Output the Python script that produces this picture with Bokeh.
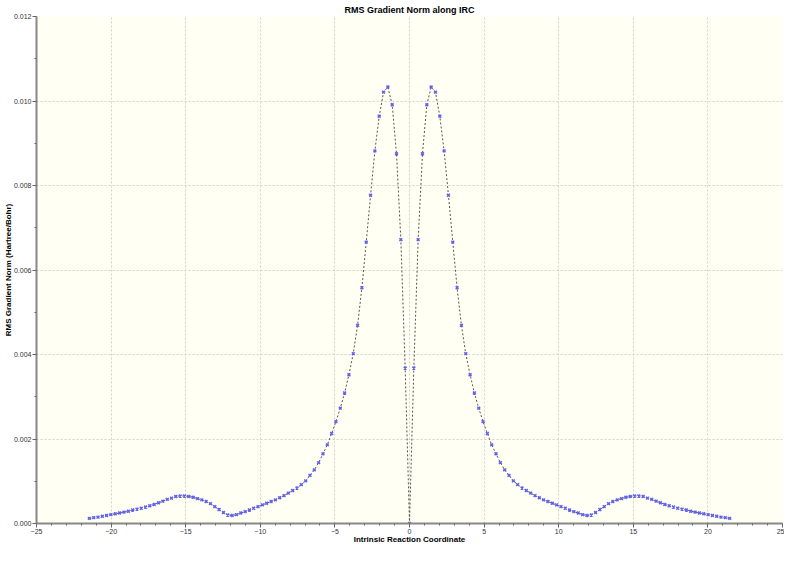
from bokeh.plotting import figure
from bokeh.models import Range1d, SingleIntervalTicker, NumeralTickFormatter
from bokeh.embed import file_html
from bokeh.resources import INLINE

# IRC coordinate (left branch, from the end point toward the TS)
irc_left = [-21.46, -21.17, -20.88, -20.59, -20.30, -20.01, -19.72, -19.43, -19.14, -18.85,
            -18.56, -18.27, -17.98, -17.69, -17.40, -17.11, -16.82, -16.53, -16.24, -15.95,
            -15.66, -15.37, -15.08, -14.79, -14.50, -14.21, -13.92, -13.63, -13.34, -13.05,
            -12.76, -12.47, -12.18, -11.89, -11.60, -11.31, -11.02, -10.73, -10.44, -10.15,
            -9.86, -9.57, -9.28, -8.99, -8.70, -8.41, -8.12, -7.83, -7.54, -7.25,
            -6.96, -6.67, -6.38, -6.09, -5.80, -5.51, -5.22, -4.93, -4.64, -4.35,
            -4.06, -3.77, -3.48, -3.19, -2.90, -2.61, -2.32, -2.03, -1.74, -1.45,
            -1.16, -0.87, -0.58, -0.29]
rms_left = [0.00012, 0.00014, 0.00015, 0.00017, 0.00019, 0.00021, 0.00023, 0.00025, 0.00027, 0.00029,
            0.00032, 0.00034, 0.00036, 0.00039, 0.00042, 0.00045, 0.00049, 0.00053, 0.00057, 0.00060,
            0.00064, 0.00065, 0.00065, 0.00064, 0.00062, 0.00059, 0.00056, 0.00052, 0.00047, 0.00040,
            0.00033, 0.00026, 0.00020, 0.00019, 0.00021, 0.00025, 0.00028, 0.00032, 0.00036, 0.00040,
            0.00044, 0.00048, 0.00052, 0.00056, 0.00061, 0.00066, 0.00072, 0.00078, 0.00084, 0.00092,
            0.00101, 0.00114, 0.00127, 0.00144, 0.00165, 0.00186, 0.00213, 0.00241, 0.00273, 0.00309,
            0.00352, 0.00402, 0.00469, 0.00558, 0.00666, 0.00777, 0.00882, 0.00964, 0.01021, 0.01033,
            0.00991, 0.00875, 0.00672, 0.00368]

# transition state
irc_ts = [0.0]
rms_ts = [0.0]

# IRC coordinate (right branch, from the TS outward)
irc_right = [0.29, 0.58, 0.87, 1.16, 1.45, 1.74, 2.03, 2.32, 2.61, 2.90,
             3.19, 3.48, 3.77, 4.06, 4.35, 4.64, 4.93, 5.22, 5.51, 5.80,
             6.09, 6.38, 6.67, 6.96, 7.25, 7.54, 7.83, 8.12, 8.41, 8.70,
             8.99, 9.28, 9.57, 9.86, 10.15, 10.44, 10.73, 11.02, 11.31, 11.60,
             11.89, 12.18, 12.47, 12.76, 13.05, 13.34, 13.63, 13.92, 14.21, 14.50,
             14.79, 15.08, 15.37, 15.66, 15.95, 16.24, 16.53, 16.82, 17.11, 17.40,
             17.69, 17.98, 18.27, 18.56, 18.85, 19.14, 19.43, 19.72, 20.01, 20.30,
             20.59, 20.88, 21.17, 21.46]
rms_right = [0.00368, 0.00672, 0.00875, 0.00991, 0.01033, 0.01021, 0.00964, 0.00882, 0.00777, 0.00666,
             0.00558, 0.00469, 0.00402, 0.00352, 0.00309, 0.00273, 0.00241, 0.00213, 0.00186, 0.00165,
             0.00144, 0.00127, 0.00114, 0.00101, 0.00092, 0.00084, 0.00078, 0.00072, 0.00066, 0.00061,
             0.00056, 0.00052, 0.00048, 0.00044, 0.00040, 0.00036, 0.00032, 0.00028, 0.00025, 0.00021,
             0.00019, 0.00020, 0.00026, 0.00033, 0.00040, 0.00047, 0.00052, 0.00056, 0.00059, 0.00062,
             0.00064, 0.00065, 0.00065, 0.00064, 0.00060, 0.00057, 0.00053, 0.00049, 0.00045, 0.00042,
             0.00039, 0.00036, 0.00034, 0.00032, 0.00029, 0.00027, 0.00025, 0.00023, 0.00021, 0.00019,
             0.00017, 0.00015, 0.00014, 0.00012]

x_vals = irc_left + irc_ts + irc_right
y_vals = rms_left + rms_ts + rms_right

FONT = "Liberation Sans"

p = figure(width=784, height=546, output_backend="svg", toolbar_location=None,
           x_range=Range1d(-25, 25), y_range=Range1d(0, 0.012),
           title="RMS Gradient Norm along IRC",
           min_border_left=0, min_border_right=2, min_border_top=0, min_border_bottom=0,
           background_fill_color="#fffff3", border_fill_color="white")
p.outline_line_color = None

p.title.align = "center"
p.title.text_font = FONT
p.title.text_font_size = "9px"
p.title.text_font_style = "bold"
p.title.text_color = "#000000"
p.title.standoff = 4

p.xaxis.ticker = SingleIntervalTicker(interval=5, num_minor_ticks=5)
p.yaxis.ticker = SingleIntervalTicker(interval=0.002, num_minor_ticks=2)
p.yaxis.formatter = NumeralTickFormatter(format="0.000")

p.xaxis.axis_label = "Intrinsic Reaction Coordinate"
p.yaxis.axis_label = "RMS Gradient Norm (Hartree/Bohr)"
for ax in (p.xaxis[0], p.yaxis[0]):
    ax.axis_label_text_font = FONT
    ax.axis_label_text_font_size = "8px"
    ax.axis_label_text_font_style = "bold"
    ax.axis_label_text_color = "#000000"
    ax.axis_label_standoff = -2
    ax.axis_label_text_line_height = 1.0
    ax.major_label_text_font = FONT
    ax.major_label_text_font_size = "7px"
    ax.major_label_text_color = "#333333"
    ax.major_label_standoff = 1
    ax.major_label_text_line_height = 1.0
    ax.axis_line_color = "#888888"
    ax.axis_line_width = 2
    ax.major_tick_line_color = "#666666"
    ax.minor_tick_line_color = "#666666"
    ax.major_tick_out = 4
    ax.major_tick_in = 0
    ax.minor_tick_out = 2
    ax.minor_tick_in = 0

for g in (p.xgrid[0], p.ygrid[0]):
    g.grid_line_color = "#d2d2cc"
    g.grid_line_dash = "2 2"
    g.grid_line_width = 1

p.line(x_vals, y_vals, line_color="#555555", line_dash="2 2", line_width=1)
p.scatter(x_vals, y_vals, marker="x", size=4, line_color="#6060f0", line_width=1.5)

open("out.html", "w").write(file_html(p, INLINE))
